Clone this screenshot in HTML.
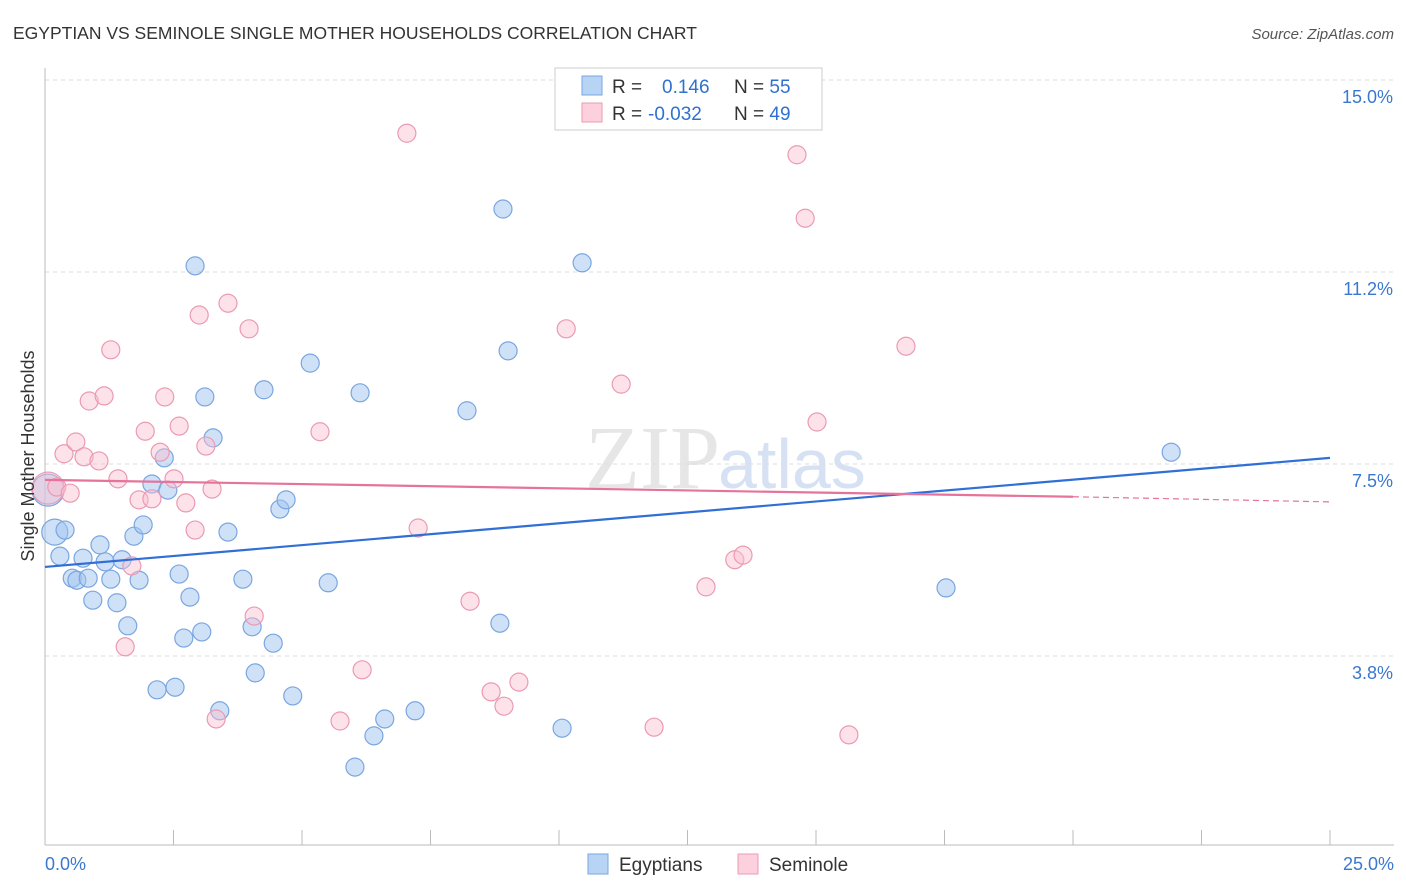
<!DOCTYPE html>
<html><head><meta charset="utf-8">
<style>
body{margin:0;background:#fff;font-family:"Liberation Sans",sans-serif;}
#wrap{position:relative;width:1406px;height:892px;overflow:hidden;}
</style></head><body>
<div id="wrap">
<svg id="svg" width="1406" height="892">
<text x="13" y="39" font-size="17.5" fill="#333">EGYPTIAN VS SEMINOLE SINGLE MOTHER HOUSEHOLDS CORRELATION CHART</text>
<text x="1394" y="39" font-size="15" fill="#555" font-style="italic" text-anchor="end">Source: ZipAtlas.com</text>
<text x="720" y="488" font-size="90" fill="#e6e6e6" text-anchor="end" font-family="Liberation Serif">ZIP</text>
<text x="718" y="488" font-size="70" fill="#d6e2f3">atlas</text>
<g id="grid"></g><g id="axes"></g><g id="marks"></g>
<text transform="translate(34,456) rotate(-90)" font-size="18" fill="#333" text-anchor="middle">Single Mother Households</text>
<g>
<rect x="555" y="68" width="267" height="62" fill="#fff" stroke="#ccc"/>
<rect x="582" y="76" width="20" height="19" fill="#b8d4f5" stroke="#7aa6e0"/>
<rect x="582" y="103" width="20" height="19" fill="#fcd0dc" stroke="#eb9ab3"/>
<text x="612" y="93" font-size="19" fill="#333">R = <tspan x="662" fill="#3070d0">0.146</tspan><tspan x="734" fill="#333">N = </tspan><tspan fill="#3070d0">55</tspan></text>
<text x="612" y="120" font-size="19" fill="#333">R = <tspan x="648" fill="#3070d0">-0.032</tspan><tspan x="734" fill="#333">N = </tspan><tspan fill="#3070d0">49</tspan></text>
</g>
<g>
<rect x="588" y="854" width="20" height="20" fill="#b8d4f5" stroke="#7aa6e0"/>
<text x="619" y="871" font-size="19" fill="#333">Egyptians</text>
<rect x="738" y="854" width="20" height="20" fill="#fcd0dc" stroke="#eb9ab3"/>
<text x="769" y="871" font-size="19" fill="#333">Seminole</text>
</g>
</svg></div>
<script>
const yTicks=[15.0,11.25,7.5,3.75];
const yTickLabels=["15.0%","11.2%","7.5%","3.8%"];
const xTickLabels=["0.0%","25.0%"];
const blueX=[0.06,0.19,0.39,0.29,0.53,0.62,0.74,0.84,0.93,1.07,1.17,1.28,1.40,1.50,1.61,1.73,1.83,1.91,2.08,2.18,2.32,2.39,2.53,2.61,2.70,2.82,2.92,3.05,3.11,3.27,3.40,3.56,3.85,4.03,4.09,4.26,4.44,4.57,4.69,4.82,5.16,5.51,6.03,6.13,6.40,6.61,7.20,8.21,8.85,8.91,9.01,10.06,10.45,17.53,21.91];
const blueY=[6.99,6.17,6.21,5.70,5.27,5.23,5.66,5.27,4.84,5.92,5.59,5.25,4.79,5.63,4.34,6.09,5.23,6.31,7.11,3.09,7.62,6.99,3.14,5.35,4.10,4.90,11.37,4.22,8.81,8.01,2.68,6.17,5.25,4.32,3.42,8.95,4.00,6.62,6.80,2.97,9.47,5.18,1.58,8.89,2.19,2.52,2.68,8.54,4.39,12.48,9.71,2.34,11.43,5.08,7.73];
const blueR=[16,13,9,9,9,9,9,9,9,9,9,9,9,9,9,9,9,9,9,9,9,9,9,9,9,9,9,9,9,9,9,9,9,9,9,9,9,9,9,9,9,9,9,9,9,9,9,9,9,9,9,9,9,9,9];
const pinkX=[0.06,0.23,0.37,0.49,0.60,0.76,0.86,1.05,1.15,1.28,1.42,1.56,1.69,1.83,1.95,2.08,2.24,2.33,2.51,2.61,2.74,2.92,3.00,3.13,3.25,3.56,3.97,4.07,3.33,5.35,5.74,6.17,7.04,7.26,8.27,8.68,8.93,9.22,10.14,11.21,11.85,12.86,13.42,13.58,14.63,14.79,15.02,15.64,16.75];
const pinkY=[7.03,7.05,7.70,6.93,7.93,7.64,8.73,7.56,8.83,9.73,7.21,3.93,5.51,6.80,8.14,6.82,7.73,8.81,7.21,8.24,6.74,6.21,10.41,7.85,7.01,10.64,10.14,4.53,2.52,8.13,2.48,3.48,13.96,6.25,4.82,3.05,2.77,3.24,10.14,9.06,2.36,5.10,5.63,5.72,13.54,12.30,8.32,2.21,9.80];
const blueTrend=[5.49,7.62];
const pinkTrend=[7.19,6.86,6.76];
const NS="http://www.w3.org/2000/svg";
const X=v=>45+v*51.4, Y=v=>848-v*51.2;
function mk(t,a,p){const e=document.createElementNS(NS,t);for(const k in a)e.setAttribute(k,a[k]);p.appendChild(e);return e;}
const grid=document.getElementById('grid'),axes=document.getElementById('axes'),marks=document.getElementById('marks');
yTicks.forEach((v,i)=>{
 const l=mk('line',{x1:45,x2:1394,y1:Y(v),y2:Y(v),stroke:'#ddd','stroke-dasharray':'4,4'},grid);
 
 
 const t=mk('text',{x:1393,y:Y(v)+23,'font-size':18,fill:'#3a78d0','text-anchor':'end'},axes);t.textContent=yTickLabels[i];
 
 
});
mk('line',{x1:45,x2:45,y1:68,y2:845,stroke:'#bbb'},axes);
mk('line',{x1:45,x2:1394,y1:845,y2:845,stroke:'#bbb'},axes);
for(let i=0;i<=10;i++){const l=mk('line',{x1:X(i*2.5),x2:X(i*2.5),y1:830,y2:845,stroke:'#bbb'},axes);
 
 }
let t=mk('text',{x:45,y:870,'font-size':18,fill:'#3a78d0'},axes);t.textContent=xTickLabels[0];


t=mk('text',{x:1394,y:870,'font-size':18,fill:'#3a78d0','text-anchor':'end'},axes);t.textContent=xTickLabels[1];


blueX.forEach((v,i)=>{const c=mk('circle',{cx:X(v),cy:Y(blueY[i]),r:blueR[i],fill:'rgba(160,196,240,0.5)',stroke:'#7aa6e0','stroke-width':1.2},marks);
 
 });
pinkX.forEach((v,i)=>{const c=mk('circle',{cx:X(v),cy:Y(pinkY[i]),r:i==0?16:9,fill:'rgba(250,190,208,0.45)',stroke:'#eb9ab3','stroke-width':1.2},marks);
 
 });
let l=mk('line',{x1:X(0),y1:Y(blueTrend[0]),x2:X(25),y2:Y(blueTrend[1]),stroke:'#2f6fd6','stroke-width':2.2},marks);


l=mk('line',{x1:X(0),y1:Y(pinkTrend[0]),x2:X(20),y2:Y(pinkTrend[1]),stroke:'#e5739b','stroke-width':2.2},marks);


l=mk('line',{x1:X(20),y1:Y(pinkTrend[1]),x2:X(25),y2:Y(pinkTrend[2]),stroke:'#e5739b','stroke-width':1.2,'stroke-dasharray':'6,4'},marks);


</script>
</body></html>
